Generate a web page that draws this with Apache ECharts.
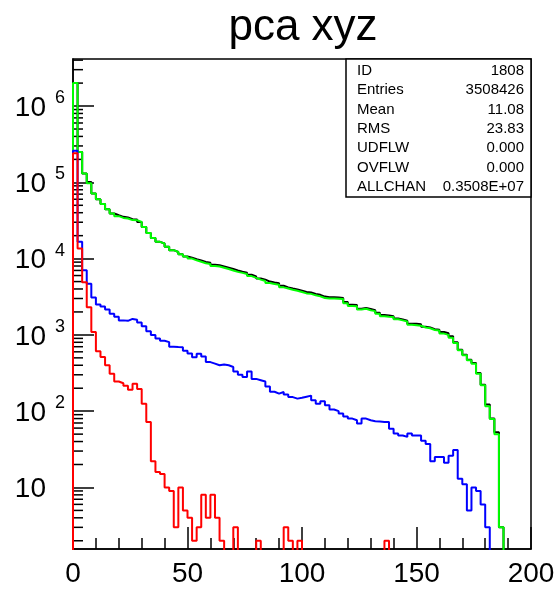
<!DOCTYPE html>
<html><head><meta charset="utf-8">
<script src="https://cdn.jsdelivr.net/npm/echarts@6/dist/echarts.min.js"></script>
<style>html,body{margin:0;padding:0;background:#fff}#c{width:558px;height:589px}</style>
</head><body><div id="c"></div>
<script>
// ---- data (100 bins of width 2 on 0..200) ----
const binWidth = 2;
const xTickLabels = ['0', '50', '100', '150', '200'];
const yTickExponents = [1, 2, 3, 4, 5, 6];

const blackTotal = [
 2000000,250000,131000,101000,71500,60000,52000,44500,39000,37000,
 35300,34600,32800,32500,30200,26000,21700,18700,16600,15800,
 14300,12900,12200,11400,10700,10300,9800,9450,9050,8850,
 8300,8200,7900,7600,7300,7000,6750,6550,6150,5850,
 5500,5300,5000,4850,4750,4400,4200,4050,3950,3800,
 3650,3600,3450,3350,3180,3120,3120,3100,3050,2700,
 2480,2460,2200,2250,2180,2100,1950,1820,1800,1760,
 1640,1590,1530,1400,1400,1380,1280,1250,1190,1170,
 1090,1050,960,800,640,550,472,428,316,222,
 122,80,53,3,0,0,0,0,0,0];

const green = [
 2000000,250000,131000,97000,71500,60000,52000,44500,39000,36000,
 34200,33600,32000,31900,30200,26000,21700,18700,16600,15800,
 14300,12900,12200,11400,10700,10000,9500,9100,8700,8500,
 8000,7900,7600,7300,7000,6700,6500,6300,5900,5600,
 5300,5100,4800,4650,4550,4200,4050,3900,3800,3650,
 3500,3450,3300,3200,3050,3000,3000,2980,2950,2600,
 2400,2370,2150,2200,2100,2050,1900,1750,1730,1720,
 1600,1550,1500,1360,1340,1320,1250,1220,1160,1140,
 1040,1000,920,783,628,540,464,420,310,218,
 116,79,50,3,0,0,0,0,0,0];

const blue = [
 260000,16600,7050,4700,3100,2500,2350,2150,1900,1730,
 1550,1530,1620,1580,1450,1300,1120,1000,900,840,
 805,700,694,690,620,570,510,565,520,440,
 420,400,410,400,380,330,300,280,330,265,
 255,245,210,180,170,178,165,153,146,150,
 155,160,139,125,135,120,105,100,93,85,
 80,76,69,80,76,74,73,72,72,59,
 51,48,46,51,48,48,41,37,22,25,
 25,21,26,31,13,11,5,10,9,6,
 3,0,0,0,0,0,0,0,0,0];

const red = [
 240000,13600,4900,2300,1090,610,513,400,310,245,
 232,215,191,229,195,125,72,22,16,15,
 10,9,3,10,5,4,2,3,8,4,
 8,4,2,0,0,3,0,0,0,0,
 2,0,0,0,0,0,3,2,0,2,
 0,0,0,0,0,0,0,0,0,0,
 0,0,0,0,0,0,0,0,2,0,
 0,0,0,0,0,0,0,0,0,0,
 0,0,0,0,0,0,0,0,0,0,
 0,0,0,0,0,0,0,0,0,0];

const statLabels = ['ID', 'Entries', 'Mean', 'RMS', 'UDFLW', 'OVFLW', 'ALLCHAN'];
const statValues = ['1808', '3508426', '11.08', '23.83', '0.000', '0.000', '0.3508E+07'];

// ---- layout ----
const X_MIN = 0, X_MAX = 200;
const Y_MIN = 1.56, Y_MAX = 4.14e6;
const FLOOR = 0.5; // empty bins drawn below the axis (clipped)
const FONT = 'Liberation Sans';
const G = {left: 73, top: 59, width: 458, height: 490};

function histData(vals) {
  const d = [[X_MIN, FLOOR]];
  vals.forEach((v, i) => d.push([i * binWidth, v > 0 ? v : FLOOR]));
  d.push([vals.length * binWidth, FLOOR]);
  return d;
}
function histSeries(vals, color) {
  return {
    type: 'line', step: 'end', data: histData(vals), symbol: 'none',
    clip: true, silent: true, animation: false,
    lineStyle: {color: color, width: 2}
  };
}

const minorVals = [];
for (let e = 0; e <= 6; e++) for (let k = 2; k <= 9; k++) {
  const v = k * Math.pow(10, e);
  if (v > Y_MIN && v < Y_MAX) minorVals.push([0, v]);
}

const stats = [];
stats.push({type: 'rect', shape: {x: 346, y: 59, width: 185, height: 138},
  style: {fill: '#fff', stroke: '#000', lineWidth: 1.5}, z: 10});
statLabels.forEach((t, i) => {
  const y = 71 + i * 19.33;
  stats.push({type: 'text', x: 357, y: y, z: 11,
    style: {text: t, font: '15px ' + FONT, fill: '#000', textAlign: 'left', textVerticalAlign: 'middle'}});
  stats.push({type: 'text', x: 524, y: y, z: 11,
    style: {text: statValues[i], font: '15px ' + FONT, fill: '#000', textAlign: 'right', textVerticalAlign: 'middle'}});
});
stats.push({type: 'text', x: 303, y: 28, z: 11,
  style: {text: 'pca xyz', font: '44px ' + FONT, fill: '#000', textAlign: 'center', textVerticalAlign: 'middle'}});

const chart = echarts.init(document.getElementById('c'), null, {renderer: 'canvas'});
chart.setOption({
  animation: false,
  backgroundColor: '#fff',
  grid: Object.assign({show: true, borderColor: '#000', borderWidth: 1.5, backgroundColor: 'transparent', containLabel: false}, G),
  xAxis: {
    type: 'value', min: X_MIN, max: X_MAX, interval: 50,
    axisLine: {show: true, lineStyle: {color: '#000', width: 1.5}},
    axisTick: {show: true, inside: true, length: 22, lineStyle: {color: '#000', width: 1.5}},
    minorTick: {show: true, splitNumber: 5, length: 11, lineStyle: {color: '#000', width: 1.5}},
    splitLine: {show: false}, minorSplitLine: {show: false},
    axisLabel: {margin: 11, fontSize: 28, fontFamily: FONT, color: '#000',
      formatter: v => xTickLabels[Math.round(v / 50)] || ''}
  },
  yAxis: {
    type: 'log', logBase: 10, min: Y_MIN, max: Y_MAX,
    axisLine: {show: true, lineStyle: {color: '#000', width: 1.5}},
    axisTick: {show: true, inside: true, length: 21, lineStyle: {color: '#000', width: 1.5}},
    splitLine: {show: false},
    axisLabel: {
      margin: 8, showMinLabel: false, showMaxLabel: false, color: '#000',
      formatter: v => {
        const e = Math.log10(v), r = Math.round(e);
        if (Math.abs(e - r) > 1e-6 || yTickExponents.indexOf(r) < 0) return '';
        return '{b|10}{e|' + (r === 1 ? ' ' : r) + '}';
      },
      rich: {
        b: {fontSize: 28, lineHeight: 34, padding: [4, 0, 0, 0], fontFamily: FONT, color: '#000'},
        e: {fontSize: 18, lineHeight: 18, fontFamily: FONT, color: '#000', verticalAlign: 'top', width: 14, padding: [0, 0, 0, 5]}
      }
    }
  },
  series: [
    histSeries(blackTotal, '#000000'),
    histSeries(green, '#00ff00'),
    histSeries(blue, '#0000ff'),
    histSeries(red, '#ff0000'),
    {
      type: 'custom', silent: true, animation: false, clip: false, z: 3,
      data: minorVals,
      renderItem: (params, api) => {
        const p = api.coord([api.value(0), api.value(1)]);
        return {type: 'line', shape: {x1: p[0], y1: p[1], x2: p[0] + 10, y2: p[1]},
          style: {stroke: '#000', lineWidth: 1.5}};
      }
    }
  ],
  graphic: {elements: stats}
});
</script>
</body></html>
